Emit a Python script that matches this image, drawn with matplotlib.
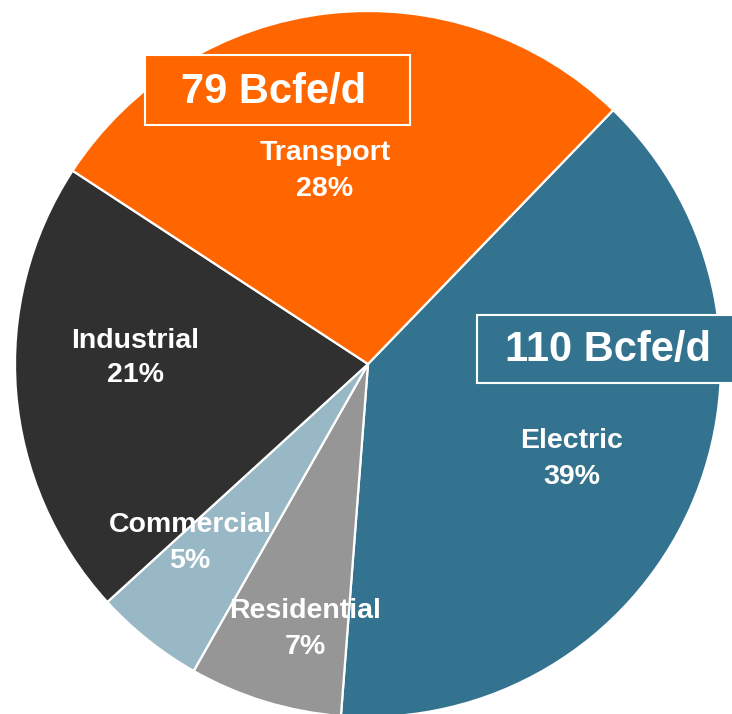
import matplotlib
matplotlib.use("Agg")
import matplotlib.pyplot as plt
from matplotlib.patches import Rectangle

categories = ["Electric", "Residential", "Commercial", "Industrial", "Transport"]
shares = [39, 7, 5, 21, 28]
colors = ["#34738F", "#969696", "#98B8C6", "#303030", "#FF6600"]
# label positions (pixel coords, top-origin)
label_pos = [(572, 459), (305, 629), (190, 543), (135, 358), (325, 171)]
callouts = ["110 Bcfe/d", "79 Bcfe/d"]
callout_colors = ["#34738F", "#FF6600"]
callout_boxes = [(477, 315, 270, 68), (145, 55, 265, 70)]  # x, y_top, w, h
callout_text_pos = [(608, 350), (274, 92)]

W, H = 732, 714
plt.rcParams['font.family'] = ['Liberation Sans', 'DejaVu Sans']
fig = plt.figure(figsize=(W / 100, H / 100), dpi=100)
ax = fig.add_axes([0, 0, 1, 1])

ax.pie(shares, colors=colors, startangle=46, counterclock=False,
       radius=353, center=(368, H - 364),
       wedgeprops=dict(edgecolor="white", linewidth=1.6))
ax.set_xlim(0, W)
ax.set_ylim(0, H)
ax.set_aspect("equal")
ax.axis("off")

for cat, sh, (px, py) in zip(categories, shares, label_pos):
    ax.text(px, H - py, f"{cat}\n{sh}%", color="white", fontsize=20.5,
            fontweight="bold", ha="center", va="center", linespacing=1.45)

for txt, col, (bx, by, bw, bh), (tx, ty) in zip(callouts, callout_colors,
                                                callout_boxes, callout_text_pos):
    ax.add_patch(Rectangle((bx, H - by - bh), bw, bh, facecolor=col,
                           edgecolor="white", linewidth=1.5, zorder=5, clip_on=False))
    ax.text(tx, H - ty, txt, color="white", fontsize=30,
            fontweight="bold", ha="center", va="center", zorder=6)

fig.savefig("out.png", dpi=100)
